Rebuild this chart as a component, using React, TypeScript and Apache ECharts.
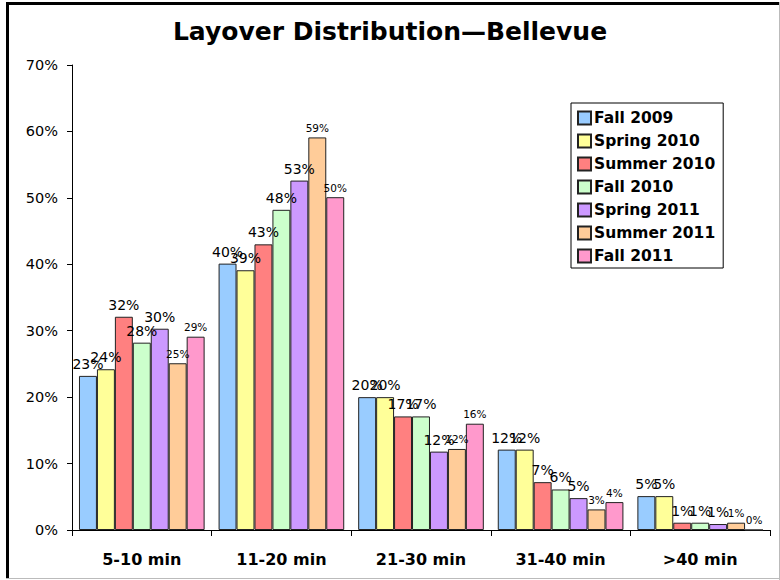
import React, { useEffect, useRef } from "react";
import * as echarts from "echarts";

const categories = ["5-10 min", "11-20 min", "21-30 min", "31-40 min", ">40 min"];
const seriesNames = [
  "Fall 2009",
  "Spring 2010",
  "Summer 2010",
  "Fall 2010",
  "Spring 2011",
  "Summer 2011",
  "Fall 2011",
];
const fall2009 = [23.2, 40.1, 20.0, 12.1, 5.1];
const spring2010 = [24.2, 39.1, 20.0, 12.1, 5.1];
const summer2010 = [32.1, 43.0, 17.1, 7.2, 1.1];
const fall2010 = [28.2, 48.2, 17.1, 6.1, 1.1];
const spring2011 = [30.3, 52.6, 11.8, 4.8, 0.9];
const summer2011 = [25.1, 59.1, 12.2, 3.1, 1.1];
const fall2011 = [29.1, 50.1, 16.0, 4.2, 0.0];
const yTicks = [0, 10, 20, 30, 40, 50, 60, 70];

const seriesValues = [fall2009, spring2010, summer2010, fall2010, spring2011, summer2011, fall2011];
const palette = ["#99CCFF", "#FFFF99", "#FF8080", "#CCFFCC", "#CC99FF", "#FFCC99", "#FF99CC"];
const smallLabel = [false, false, false, false, false, true, true];

const FONT = "DejaVu Sans";

export default function App() {
  const ref = useRef<HTMLDivElement>(null);
  useEffect(() => {
    if (!ref.current) return;
    const chart = echarts.init(ref.current, null, { renderer: "svg" });
    chart.setOption({
      animation: false,
      backgroundColor: "#ffffff",
      title: {
        text: "Layover Distribution\u2014Bellevue",
        left: "center",
        top: 14,
        textStyle: { fontFamily: FONT, fontSize: 25, fontWeight: "bold", color: "#000" },
      },
      legend: {
        orient: "vertical",
        left: 571,
        top: 103,
        data: seriesNames,
        backgroundColor: "#ffffff",
        borderColor: "#000",
        borderWidth: 1,
        borderRadius: 0,
        padding: [7, 8, 4, 6],
        itemGap: 7,
        itemWidth: 13,
        itemHeight: 13,
        icon: "rect",
        textStyle: { fontFamily: FONT, fontSize: 15.5, fontWeight: "bold", color: "#000", padding: [0, 0, 0, -2] },
      },
      grid: { left: 72, right: 10, top: 65, bottom: 50, containLabel: false },
      xAxis: {
        type: "category",
        data: categories,
        axisLine: { lineStyle: { color: "#000", width: 1 } },
        axisTick: { show: true, length: 6, lineStyle: { color: "#000" } },
        axisLabel: { fontFamily: FONT, fontSize: 16, fontWeight: "bold", color: "#000", margin: 21 },
      },
      yAxis: {
        type: "value",
        min: yTicks[0],
        max: yTicks[yTicks.length - 1],
        interval: 10,
        splitLine: { show: false },
        axisLine: { show: true, lineStyle: { color: "#000", width: 1 } },
        axisTick: { show: true, length: 5, lineStyle: { color: "#000" } },
        axisLabel: { fontFamily: FONT, fontSize: 14.5, color: "#000", margin: 14, formatter: "{value}%" },
      },
      series: seriesNames.map((name, i) => ({
        name,
        type: "bar",
        data: seriesValues[i],
        barGap: "0%",
        barCategoryGap: "10%",
        itemStyle: { color: palette[i], borderColor: "#222", borderWidth: 1 },
        label: {
          show: true,
          position: "top",
          distance: smallLabel[i] ? 4 : 5,
          fontFamily: FONT,
          fontSize: smallLabel[i] ? 10.5 : 14,
          color: "#000",
          formatter: (p: any) => Math.round(p.value) + "%",
        },
      })),
      graphic: [
        { type: "rect", shape: { x: 6, y: 2, width: 773, height: 3 }, style: { fill: "#000" }, silent: true },
        { type: "rect", shape: { x: 6, y: 2, width: 3, height: 577 }, style: { fill: "#000" }, silent: true },
        { type: "line", shape: { x1: 779.5, y1: 2, x2: 779.5, y2: 580 }, style: { stroke: "#bbb", lineWidth: 1 }, silent: true },
        { type: "line", shape: { x1: 6, y1: 578.5, x2: 780, y2: 578.5 }, style: { stroke: "#bbb", lineWidth: 1 }, silent: true },
      ],
    });
    return () => chart.dispose();
  }, []);
  return (
    <div
      ref={ref}
      style={{ position: "fixed", left: 0, top: 0, width: 780, height: 580, background: "#fff" }}
    />
  );
}
